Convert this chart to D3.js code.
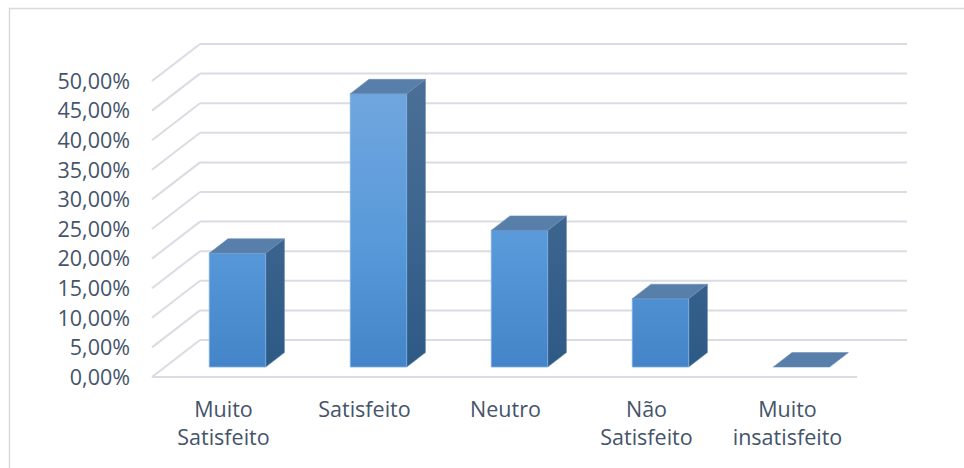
<!DOCTYPE html>
<html>
<head>
<meta charset="utf-8">
<script src="https://cdn.jsdelivr.net/npm/d3@7"></script>
<style>
  html, body { margin: 0; padding: 0; background: #ffffff; }
  svg { display: block; }
</style>
</head>
<body>
<svg id="chart" width="964" height="468"></svg>
<script>
const categories = [["Muito", "Satisfeito"], ["Satisfeito"], ["Neutro"], ["Não", "Satisfeito"], ["Muito", "insatisfeito"]];
const values = [0.1923, 0.4615, 0.2308, 0.1154, 0.0];
const tickValues = [0, 0.05, 0.10, 0.15, 0.20, 0.25, 0.30, 0.35, 0.40, 0.45, 0.50];

const svg = d3.select("#chart");
const W = 964, H = 468;

// Outer border
svg.append("rect").attr("x", 9.5).attr("y", 8.5).attr("width", W + 10).attr("height", H + 10)
  .attr("fill", "none").attr("stroke", "#d9d9d9").attr("stroke-width", 1.5);

const catKeys = categories.map(c => c.join(" "));
const x = d3.scaleBand().domain(catKeys).range([152, 857]);
const y = d3.scaleLinear().domain([0, 0.5]).range([377, 81]);
const DX = 48, DY = -37; // full depth vector
const off = t => [DX * t, DY * t];

const locale = d3.formatLocale({ decimal: ",", thousands: ".", grouping: [3], currency: ["R$", ""] });
const fmt = locale.format(".2%");

const gridColor = "#d9dce3";
const g = svg.append("g");

// Back wall gridlines and left wall diagonals
tickValues.forEach(v => {
  const yf = y(v), yb = y(v) + DY;
  g.append("line").attr("x1", 152 + DX).attr("x2", 907).attr("y1", yb).attr("y2", yb)
    .attr("stroke", gridColor).attr("stroke-width", 2);
  g.append("line").attr("x1", 152).attr("y1", yf).attr("x2", 152 + DX).attr("y2", yb)
    .attr("stroke", gridColor).attr("stroke-width", 2);
});
// Floor front edge
g.append("line").attr("x1", 152).attr("x2", 857).attr("y1", y(0)).attr("y2", y(0))
  .attr("stroke", gridColor).attr("stroke-width", 2);

// Y axis labels
const textColor = "#44546a";
const fontSize = 21.5;
svg.append("g").selectAll("text").data(tickValues).join("text")
  .attr("x", 130).attr("y", d => y(d)).attr("dy", "0.36em")
  .attr("text-anchor", "end")
  .attr("font-family", "'Open Sans', sans-serif").attr("font-size", fontSize)
  .attr("fill", textColor)
  .text(d => fmt(d));

// Gradients
const defs = svg.append("defs");
const fg = defs.append("linearGradient").attr("id", "frontGrad").attr("gradientUnits", "userSpaceOnUse")
  .attr("x1", 0).attr("y1", y(0.5)).attr("x2", 0).attr("y2", y(0));
fg.append("stop").attr("offset", "0%").attr("stop-color", "#72a7de");
fg.append("stop").attr("offset", "55%").attr("stop-color", "#5899da");
fg.append("stop").attr("offset", "100%").attr("stop-color", "#4283c7");
const sg = defs.append("linearGradient").attr("id", "sideGrad").attr("gradientUnits", "userSpaceOnUse")
  .attr("x1", 0).attr("y1", y(0.5)).attr("x2", 0).attr("y2", y(0));
sg.append("stop").attr("offset", "0%").attr("stop-color", "#4b6f96");
sg.append("stop").attr("offset", "100%").attr("stop-color", "#2c5985");

// Bars
const t0 = 0.27, t1 = 0.66;
const bw = x.bandwidth() * 0.4;
const shift = 2;
const bars = svg.append("g");
values.forEach((v, i) => {
  const [ox0, oy0] = off(t0), [ox1, oy1] = off(t1);
  const xl = x(catKeys[i]) + (x.bandwidth() - bw) / 2 + ox0 + shift;
  const xr = xl + bw;
  const yt = y(v) + oy0, yb = y(0) + oy0;
  const ddx = ox1 - ox0, ddy = oy1 - oy0;
  if (v > 0) {
    bars.append("path").attr("d", `M${xr},${yt}L${xr + ddx},${yt + ddy}L${xr + ddx},${yb + ddy}L${xr},${yb}Z`)
      .attr("fill", "url(#sideGrad)").attr("stroke", "#5a7ea6").attr("stroke-width", 0.6);
    bars.append("path").attr("d", `M${xl},${yt}L${xr},${yt}L${xr},${yb}L${xl},${yb}Z`)
      .attr("fill", "url(#frontGrad)").attr("stroke", "#7cb0e4").attr("stroke-width", 0.8);
  }
  bars.append("path").attr("d", `M${xl},${yt}L${xr},${yt}L${xr + ddx},${yt + ddy}L${xl + ddx},${yt + ddy}Z`)
    .attr("fill", "#587fa9").attr("stroke", "#6a8fb8").attr("stroke-width", 0.6);
});

// Category labels
const cl = svg.append("g");
categories.forEach((lines, i) => {
  const cx = x(catKeys[i]) + x.bandwidth() / 2 + 1;
  const t = cl.append("text").attr("text-anchor", "middle")
    .attr("font-family", "'Open Sans', sans-serif").attr("font-size", fontSize).attr("fill", textColor);
  lines.forEach((ln, j) => {
    t.append("tspan").attr("x", cx).attr("y", 417 + j * 28).text(ln);
  });
});
</script>
</body>
</html>
